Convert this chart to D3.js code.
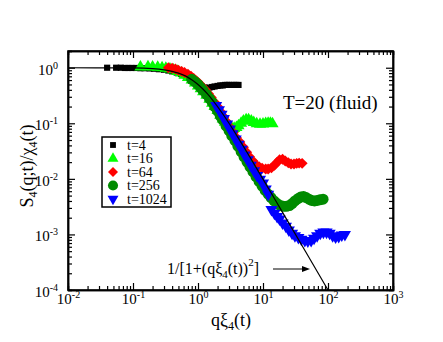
<!DOCTYPE html>
<html>
<head>
<meta charset="utf-8">
<script src="https://cdn.jsdelivr.net/npm/d3@7"></script>
<style>
	body { margin: 0; background: #fff; }
	svg text { font-family: 'Liberation Serif', 'Times New Roman', Times, serif; }
	.axis path { stroke: #000; stroke-width: 1.5; }
	.axis line { stroke: #000; stroke-width: 1.2; }
</style>
</head>
<body>
<svg class="chart" width="443" height="342"></svg>
<script>
// data: [q*xi4(t), S4/chi4]
var t4 = [[0.04,1.0],[0.055,1.0],[0.065,1.0],[0.075,0.99],[0.085,0.99],[0.095,0.99],[0.11,0.99],[0.13,0.98],
	[0.15,0.98],[0.18,0.97],[0.21,0.96],[0.25,0.94],[0.3,0.92],[0.35,0.89],[0.4,0.86],[0.47,0.82],[0.55,0.77],
	[0.65,0.71],[0.75,0.65],[0.85,0.6],[0.95,0.55],[1.05,0.5],[1.15,0.46],[1.25,0.44],[1.35,0.43],[1.5,0.44],
	[1.65,0.45],[1.8,0.46],[2.0,0.47],[2.2,0.48],[2.4,0.48],[2.6,0.49],[2.8,0.49],[3.0,0.49],[3.3,0.49],
	[3.6,0.49],[3.9,0.49],[4.2,0.49]]

var t16 = [[0.13,1.03],[0.17,1.04],[0.2,1.03],[0.24,1.02],[0.28,1.0],[0.32,0.98],[0.37,0.95],[0.42,0.91],
	[0.48,0.86],[0.55,0.8],[0.62,0.73],[0.7,0.67],[0.8,0.6],[0.9,0.53],[1.0,0.47],[1.1,0.42],[1.2,0.37],
	[1.35,0.32],[1.5,0.27],[1.65,0.23],[1.8,0.2],[2.0,0.17],[2.2,0.14],[2.4,0.12],[2.6,0.105],[2.8,0.093],
	[3.0,0.086],[3.3,0.082],[3.6,0.081],[3.9,0.084],[4.2,0.09],[4.6,0.1],[5.0,0.11],[5.5,0.116],[6.0,0.116],
	[6.6,0.11],[7.2,0.103],[8.0,0.098],[9.0,0.096],[10,0.097],[11,0.099],[12,0.1],[13,0.1],[14,0.098]]

var t64 = [[0.35,1.0],[0.4,0.98],[0.45,0.95],[0.5,0.9],[0.56,0.86],[0.62,0.82],[0.7,0.76],[0.78,0.7],
	[0.86,0.64],[0.95,0.58],[1.05,0.52],[1.15,0.46],[1.3,0.4],[1.45,0.34],[1.6,0.29],[1.8,0.24],[2.0,0.2],
	[2.25,0.16],[2.5,0.13],[2.8,0.105],[3.1,0.085],[3.5,0.068],[3.9,0.055],[4.4,0.046],[5.0,0.037],
	[5.6,0.03],[6.2,0.025],[7.0,0.021],[7.8,0.018],[8.7,0.0165],[9.7,0.0155],[11,0.015],[12,0.015],
	[13.5,0.0158],[15,0.0175],[16.5,0.02],[18,0.022],[20,0.0225],[22,0.021],[24.5,0.0195],[27,0.0185],
	[30,0.0185],[33,0.019],[36,0.0192],[40,0.019]]

var t256 = [[0.8,0.62],[0.9,0.56],[1.0,0.5],[1.1,0.44],[1.2,0.39],[1.35,0.33],[1.5,0.28],[1.65,0.24],
	[1.8,0.2],[2.0,0.165],[2.2,0.135],[2.4,0.115],[2.7,0.09],[3.0,0.074],[3.3,0.06],[3.7,0.049],[4.1,0.039],
	[4.6,0.031],[5.1,0.025],[5.7,0.02],[6.3,0.0165],[7.0,0.0135],[7.8,0.011],[8.7,0.009],[9.7,0.0074],
	[10.8,0.0062],[12,0.0053],[13.3,0.0046],[14.8,0.004],[16.5,0.0036],[18.5,0.0033],[20.5,0.0032],
	[23,0.0032],[25.5,0.0033],[28,0.0036],[31,0.004],[34.5,0.0044],[38,0.0047],[42,0.0048],[46,0.0046],
	[51,0.0043],[56,0.0041],[62,0.004],[68,0.0041],[75,0.0042],[84,0.0043]]

var t1024 = [[1.9,0.21],[2.1,0.175],[2.3,0.145],[2.5,0.122],[2.8,0.097],[3.1,0.079],[3.4,0.065],[3.8,0.052],
	[4.2,0.042],[4.7,0.034],[5.2,0.027],[5.8,0.022],[6.5,0.0175],[7.3,0.014],[8.1,0.0115],[9.0,0.0098],
	[10,0.0084],[11,0.0066],[12,0.0053],[13.5,0.0028],[15,0.0024],[16.5,0.0021],[18,0.0019],[20,0.0016],
	[22.5,0.0014],[25,0.0012],[28,0.00105],[31,0.00095],[35,0.00088],[39,0.00082],[44,0.00078],
	[49,0.00076],[55,0.00078],[61,0.00085],[68,0.00095],[76,0.00105],[85,0.0011],[95,0.0011],
	[106,0.00105],[118,0.00095],[131,0.0009],[146,0.00092],[163,0.00098],[182,0.001]]

// the 1/[1+x^2] guide, sampled
var fitX = [0.01,0.1,0.2,0.3,0.4,0.5,0.6,0.7,0.8,1,1.2,1.4,1.7,2,2.5,3,4,5,7,10,20,30,50,100]
var fitY = [1,0.990,0.962,0.917,0.862,0.8,0.735,0.671,0.61,0.5,0.41,0.338,0.257,0.2,0.138,0.1,0.0588,
	0.0385,0.02,0.0099,0.00249,0.00111,0.0004,0.0001]

var seriesNames = ['t=4','t=16','t=64','t=256','t=1024']
var seriesColors = ['#000000','#00ff00','#ff0000','#008b00','#0000ff']
var xMajor = [-2,-1,0,1,2,3]
var yMajor = [-4,-3,-2,-1,0]

var serif = "'Liberation Serif', 'Times New Roman', Times, serif"
var margin = { top: 51, left: 68, width: 325, height: 239 }
var svg = d3.select('svg.chart')
var scales = {}

function setupScales() {
	scales.x = d3.scaleLog().domain([1e-2, 1e3]).range([0, margin.width])
	scales.y = d3.scaleLog().domain([1e-4, 2]).range([margin.height, 0])
}

function supLabel(sel, sizeMain, sizeSup) {
	sel.each(function(d) {
		var e = Math.round(Math.log10(d))
		var t = d3.select(this).text(null)
		t.append('tspan').attr('font-size', sizeMain).text('10')
		t.append('tspan').attr('font-size', sizeSup).attr('dy', -6).text(e < 0 ? '-' + Math.abs(e) : e)
	})
}

function drawAxes(g) {
	var xm = xMajor.map(function(e) { return Math.pow(10, e) })
	var ym = yMajor.map(function(e) { return Math.pow(10, e) })
	var isMajor = function(v) { return Math.abs(Math.log10(v) - Math.round(Math.log10(v))) < 1e-6 }
	var xMinor = scales.x.ticks().filter(function(v) { return !isMajor(v) })
	var yMinor = scales.y.ticks().filter(function(v) { return !isMajor(v) })

	// minor ticks on all four sides
	g.append('g').attr('class', 'axis').attr('transform', 'translate(0,' + margin.height + ')')
		.call(d3.axisBottom(scales.x).tickValues(xMinor).tickSize(-4).tickFormat(''))
	g.append('g').attr('class', 'axis')
		.call(d3.axisTop(scales.x).tickValues(xMinor).tickSize(-4).tickFormat(''))
	g.append('g').attr('class', 'axis')
		.call(d3.axisLeft(scales.y).tickValues(yMinor).tickSize(-4).tickFormat(''))
	g.append('g').attr('class', 'axis').attr('transform', 'translate(' + margin.width + ',0)')
		.call(d3.axisRight(scales.y).tickValues(yMinor).tickSize(-4).tickFormat(''))

	// major ticks
	var xb = g.append('g').attr('class', 'axis').attr('transform', 'translate(0,' + margin.height + ')')
		.call(d3.axisBottom(scales.x).tickValues(xm).tickSizeInner(-7).tickSizeOuter(0).tickPadding(3))
	g.append('g').attr('class', 'axis')
		.call(d3.axisTop(scales.x).tickValues(xm).tickSizeInner(-7).tickSizeOuter(0).tickFormat(''))
	var yl = g.append('g').attr('class', 'axis')
		.call(d3.axisLeft(scales.y).tickValues(ym).tickSizeInner(-7).tickSizeOuter(0).tickPadding(10))
	g.append('g').attr('class', 'axis').attr('transform', 'translate(' + margin.width + ',0)')
		.call(d3.axisRight(scales.y).tickValues(ym).tickSizeInner(-7).tickSizeOuter(0).tickFormat(''))

	g.selectAll('.axis').attr('font-family', serif).attr('font-size', null)
	xb.selectAll('.tick text').attr('fill', '#000').attr('dy', '0.71em').call(supLabel, 15, 10)
	yl.selectAll('.tick text').attr('fill', '#000').attr('dy', '0.4em').call(supLabel, 15, 10)
}

function symbolFor(i) {
	var shapes = [d3.symbolSquare, d3.symbolTriangle, d3.symbolSquare, d3.symbolCircle, d3.symbolTriangle]
	var sizes = [38, 64, 60, 95, 64]
	return d3.symbol().type(shapes[i]).size(sizes[i])
}
function rotFor(i) {
	return i === 2 ? 45 : (i === 4 ? 180 : 0)
}

function drawData(g) {
	var all = [t4, t16, t64, t256, t1024]
	all.forEach(function(data, i) {
		g.append('g').attr('fill', seriesColors[i])
			.selectAll('path')
			.data(data)
			.enter()
			.append('path')
			.attr('d', symbolFor(i)())
			.attr('transform', function(d) {
				return 'translate(' + scales.x(d[0]) + ',' + scales.y(d[1]) + ')rotate(' + rotFor(i) + ')'
			})
	})

	var fit = fitX.map(function(x, i) { return [x, fitY[i]] })
	var line = d3.line()
		.x(function(d) { return scales.x(d[0]) })
		.y(function(d) { return scales.y(d[1]) })
		.curve(d3.curveMonotoneX)
	g.append('path').datum(fit).attr('d', line)
		.attr('fill', 'none').attr('stroke', '#000').attr('stroke-width', 1.2)
}

function drawLegend() {
	var lg = svg.append('g').attr('transform', 'translate(102,137)')
	lg.append('rect').attr('width', 69).attr('height', 70)
		.attr('fill', '#fff').attr('stroke', '#000').attr('stroke-width', 1.5)
	seriesNames.forEach(function(name, i) {
		var y = 8 + i * 13.5
		lg.append('path').attr('d', symbolFor(i).size([34, 52, 50, 80, 52][i])())
			.attr('fill', seriesColors[i])
			.attr('transform', 'translate(11,' + y + ')rotate(' + rotFor(i) + ')')
		lg.append('text').attr('x', 25).attr('y', y + 4.5).attr('font-size', 14).text(name)
	})
}

function drawLabels() {
	var xl = svg.append('text').attr('x', 231).attr('y', 326).attr('text-anchor', 'middle').attr('font-size', 18)
	xl.append('tspan').text('q\u03be')
	xl.append('tspan').attr('font-size', 12).attr('dy', 4).text('4')
	xl.append('tspan').attr('dy', -4).text('(t)')

	var yl = svg.append('text').attr('transform', 'translate(33,166)rotate(-90)').attr('text-anchor', 'middle').attr('font-size', 18)
	yl.append('tspan').text('S')
	yl.append('tspan').attr('font-size', 12).attr('dy', 4).text('4')
	yl.append('tspan').attr('dy', -4).text('(q;t)/\u03c7')
	yl.append('tspan').attr('font-size', 12).attr('dy', 4).text('4')
	yl.append('tspan').attr('dy', -4).text('(t)')

	svg.append('text').attr('x', 283).attr('y', 109).attr('font-size', 19).text('T=20 (fluid)')

	var ann = svg.append('text').attr('x', 167).attr('y', 274).attr('font-size', 16)
	ann.append('tspan').text('1/[1+(q\u03be')
	ann.append('tspan').attr('font-size', 11).attr('dy', 4).text('4')
	ann.append('tspan').attr('dy', -4).text('(t))')
	ann.append('tspan').attr('font-size', 11).attr('dy', -8).text('2')
	ann.append('tspan').attr('dy', 8).text(']')

	svg.append('line').attr('x1', 273).attr('y1', 269).attr('x2', 304).attr('y2', 269)
		.attr('stroke', '#000').attr('stroke-width', 1)
	svg.append('path').attr('d', 'M310,269 L302,266 L302,272 Z').attr('fill', '#000')
}

function init() {
	setupScales()
	var g = svg.append('g').attr('transform', 'translate(' + margin.left + ',' + margin.top + ')')
	drawData(g)
	g.append('rect').attr('width', margin.width).attr('height', margin.height)
		.attr('fill', 'none').attr('stroke', '#000').attr('stroke-width', 1.5)
	drawAxes(g)
	drawLegend()
	drawLabels()
}

init()
</script>
</body>
</html>
